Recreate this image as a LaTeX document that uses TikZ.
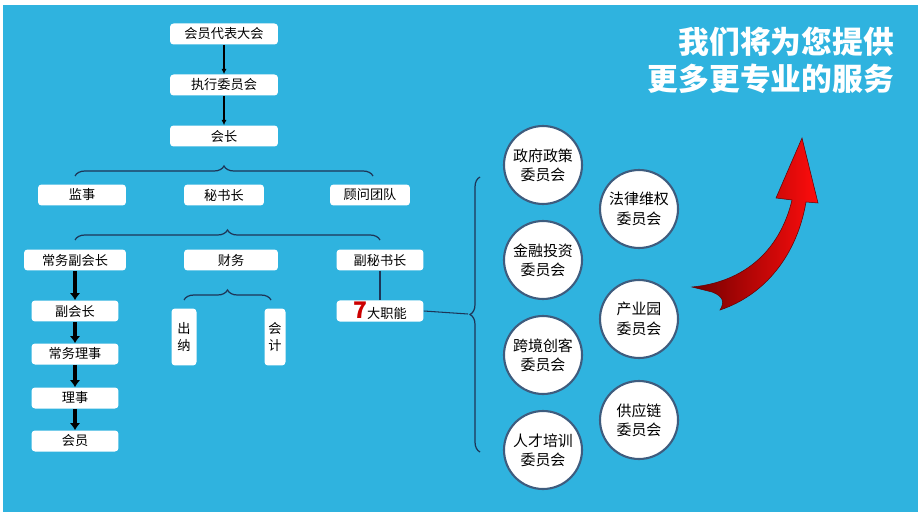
\documentclass[tikz,border=0pt]{standalone}
\usepackage{fontspec}
\setmainfont{Noto Sans CJK SC}
\usetikzlibrary{arrows.meta,decorations.pathreplacing}
\definecolor{bgblue}{HTML}{2FB3DF}
\definecolor{linenavy}{HTML}{1D3557}
\definecolor{ringgray}{HTML}{3E5C7E}
\tikzset{
  box/.style={fill=white, rounded corners=2pt, minimum width=2.16cm, minimum height=0.42cm, inner sep=1pt, font=\fontsize{7.5}{9}\selectfont},
  vbox/.style={fill=white, rounded corners=2pt, minimum width=0.5cm, minimum height=1.14cm, align=center, inner sep=1pt, font=\fontsize{7.5}{10}\selectfont},
  ring/.style={circle, fill=white, draw=ringgray, line width=1.2pt, minimum size=1.56cm, align=center, inner sep=0pt, font=\fontsize{8.5}{11}\selectfont},
  bracket/.style={draw=linenavy, line width=0.7pt, decorate, decoration={brace, amplitude=0.2cm}},
  thin arrow/.style={draw=black, line width=0.8pt, -{Latex[length=3pt,width=3pt]}},
  thick arrow/.style={draw=black, line width=2.2pt, -{Latex[length=4pt,width=6pt]}}
}
\begin{document}
\begin{tikzpicture}[x=0.02cm, y=-0.02cm]
\useasboundingbox (0,0) rectangle (922,520);
\fill[white] (0,0) rectangle (922,520);
\fill[bgblue] (3,5) rectangle (918,512);

\node[box] (daibiao) at (224,34) {会员代表大会};
\node[box] (zhixing) at (224,85) {执行委员会};
\node[box] (huizhang) at (224,136) {会长};
\draw[thin arrow] (daibiao) -- (zhixing);
\draw[thin arrow] (zhixing) -- (huizhang);

\node[box, minimum width=1.76cm] (jianshi) at (82,195) {监事};
\node[box, minimum width=1.6cm] (mishu) at (224,195) {秘书长};
\node[box, minimum width=1.6cm] (guwen) at (370,195) {顾问团队};
\draw[bracket] (75,176) -- (373,176);

\node[box, minimum width=2.04cm] (changfu) at (75,260) {常务副会长};
\node[box, minimum width=1.88cm] (caiwu) at (231,260) {财务};
\node[box, minimum width=1.74cm] (fumishu) at (380,260) {副秘书长};
\draw[bracket] (75,240) -- (380,240);

\node[box, minimum width=1.74cm] (fuhui) at (75,311) {副会长};
\node[box, minimum width=1.74cm] (changli) at (75,354) {常务理事};
\node[box, minimum width=1.74cm] (lishi) at (75,398) {理事};
\node[box, minimum width=1.74cm] (huiyuan) at (75,441) {会员};
\draw[thick arrow] (changfu) -- (fuhui);
\draw[thick arrow] (fuhui) -- (changli);
\draw[thick arrow] (changli) -- (lishi);
\draw[thick arrow] (lishi) -- (huiyuan);

\node[vbox] (chuna) at (184,337) {出\\纳};
\node[vbox, minimum width=0.42cm] (kuaiji) at (275,337) {会\\计};
\draw[bracket] (184,300) -- (271,300);

\node[box, minimum width=1.74cm] (zhineng) at (380,311) {\textcolor{red!80!black}{\fontsize{13}{13}\selectfont\bfseries 7}大职能};
\draw[draw=linenavy, line width=0.6pt] (fumishu) -- (zhineng);
\coordinate (tip) at (468,314);
\draw[bracket] (480,452) -- (480,177);
\draw[draw=linenavy, line width=0.6pt] (zhineng.east) -- (tip);

\node[ring] (zhengfu) at (543,165) {政府政策\\委员会};
\node[ring] (jinrong) at (543,260) {金融投资\\委员会};
\node[ring] (kuajing) at (543,355) {跨境创客\\委员会};
\node[ring] (rencai) at (543,450) {人才培训\\委员会};
\node[ring] (falv) at (639,209) {法律维权\\委员会};
\node[ring] (chanye) at (639,319) {产业园\\委员会};
\node[ring] (gongying) at (639,420) {供应链\\委员会};

\shade[left color=red!45!black, right color=red!95!white, draw=red!40!black, line width=0.3pt]
  (692,287) .. controls (745,282) and (780,250) .. (792,200) -- (776,198) -- (802,138)
  -- (818,203) -- (806,202) .. controls (797,255) and (765,295) .. (720,310)
  .. controls (725,302) and (723,296) .. (712,292) -- cycle;

\node[anchor=east, align=right, text=white, font=\fontsize{17.5}{21}\selectfont\bfseries] (slogan) at (900,60) {我们将为您提供\\更多更专业的服务};
\end{tikzpicture}
\end{document}
